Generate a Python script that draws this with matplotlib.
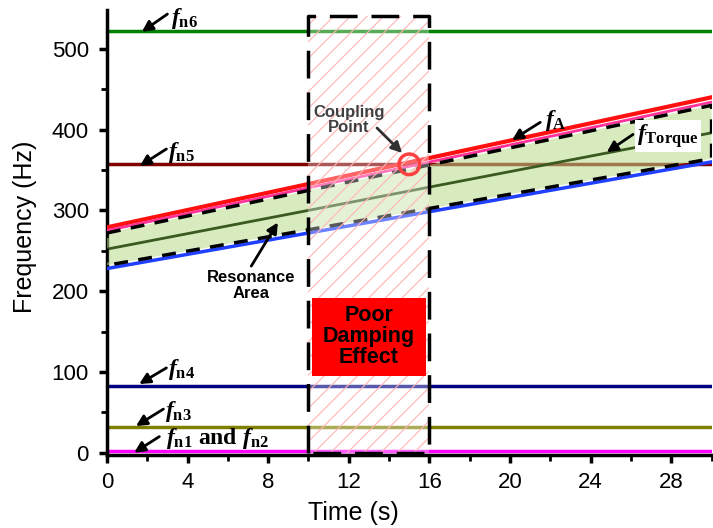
import numpy as np
import matplotlib.pyplot as plt
from matplotlib.patches import Polygon, Rectangle
from matplotlib.ticker import MultipleLocator

plt.rcParams['font.family'] = ['Liberation Sans', 'DejaVu Sans']
plt.rcParams['mathtext.fontset'] = 'custom'
plt.rcParams['mathtext.rm'] = 'Liberation Serif:bold'
plt.rcParams['mathtext.bf'] = 'Liberation Serif:bold'
plt.rcParams['mathtext.it'] = 'Liberation Serif:italic:bold'
plt.rcParams['hatch.linewidth'] = 0.8

# natural frequencies (Hz), constant in time
fn_names = ['fn1', 'fn3', 'fn4', 'fn5', 'fn6']
fn_values = [2, 32, 83, 357, 522]
fn_colors = ['#ff00ff', '#808000', '#000080', '#800000', '#008000']

# time-varying excitation frequencies, end points at t = 0 and t = 30 s
t_ends = [0, 30]
f_A = [279, 440]
f_A_inner = [275, 434]
f_lower = [228, 360]
f_torque = [252, 396]
band_upper = [272, 430]
band_lower = [232, 364]

poor_damping = (10, 16)
coupling = (15, 357)

fig = plt.figure(figsize=(7.13, 5.28), dpi=100)
ax = fig.add_axes([0.150, 0.138, 0.848, 0.843])
ax.set_xlim(0, 30)
ax.set_ylim(-3, 548)

for v, c in zip(fn_values, fn_colors):
    ax.plot([0, 30], [v, v], color=c, lw=2.5, zorder=2)

# resonance band
band = Polygon([(t_ends[0], band_lower[0]), (t_ends[1], band_lower[1]),
                (t_ends[1], band_upper[1]), (t_ends[0], band_upper[0])],
               closed=True, facecolor='#b8dc8c', alpha=0.55, edgecolor='none', zorder=3)
ax.add_patch(band)
ax.plot(t_ends, f_A, color='#ff1010', lw=3, zorder=4)
ax.plot(t_ends, f_A_inner, color='#ff3399', lw=2, zorder=4)
ax.plot(t_ends, f_lower, color='#2040ff', lw=2.5, zorder=4)
ax.plot(t_ends, f_torque, color='#3a5a20', lw=2, zorder=4)
ax.plot([t_ends[0], t_ends[1], t_ends[1], t_ends[0], t_ends[0]],
        [band_upper[0], band_upper[1], band_lower[1], band_lower[0], band_upper[0]],
        color='black', lw=2.5, ls=(0, (4, 3)), zorder=5)

# poor damping window
win = Rectangle((poor_damping[0], 0), poor_damping[1] - poor_damping[0], 540,
                facecolor=(1, 1, 1, 0.35), edgecolor='#ffb4b4', hatch='//', lw=0, zorder=6)
ax.add_patch(win)
ax.plot([10, 10, 16, 16, 10], [0, 540, 540, 0, 0], color='black', lw=2.5,
        ls=(0, (8, 4)), zorder=7)

ax.add_patch(Rectangle((10.18, 95), 5.64, 96, facecolor='#ff0000', edgecolor='none', zorder=8))
ax.text(13.0, 144, 'Poor\nDamping\nEffect', ha='center', va='center', fontsize=15.5,
        fontweight='bold', linespacing=1.0, zorder=9)

ax.scatter([coupling[0]], [coupling[1]], s=220, facecolors='none', edgecolors='#ff4040',
           linewidths=2.5, zorder=9)

arrow = dict(arrowstyle='-|>', color='black', lw=2, mutation_scale=16, shrinkA=0, shrinkB=0)
# label, arrow head, arrow tail, text position (left, centre)
labels = [
    (r'$f_{\rm n6}$', (1.73, 521), (3.0, 543), (3.2, 538)),
    (r'$f_{\rm n5}$', (1.63, 355), (2.95, 376), (3.05, 372)),
    (r'$f_{\rm n4}$', (1.6, 85), (2.95, 105), (3.05, 103)),
    (r'$f_{\rm n3}$', (1.44, 33), (2.8, 54), (2.9, 51)),
    (r'$f_{\rm n1}\ {\rm and}\ f_{\rm n2}$', (1.35, 0), (2.6, 20), (2.95, 18)),
    (r'$f_{\rm A}$', (20.1, 387), (21.5, 409), (21.75, 411)),
]
for s, head, tail, pos in labels:
    ax.annotate('', xy=head, xytext=tail, arrowprops=arrow, zorder=10)
    ax.text(pos[0], pos[1], s, ha='left', va='center', fontsize=17, zorder=10)

ax.annotate('', xy=(24.8, 372), xytext=(26.1, 394), arrowprops=arrow, zorder=10)
ax.text(26.3, 392, r'$f_{\rm Torque}$', ha='left', va='center', fontsize=17, zorder=10,
        bbox=dict(boxstyle='square,pad=0.1', fc='white', ec='none'))

ax.annotate('', xy=(14.65, 371), xytext=(13.4, 402),
            arrowprops=dict(arrow, color='#303030'), zorder=10)
ax.text(12.0, 412, 'Coupling\nPoint', ha='center', va='center', fontsize=12,
        fontweight='bold', color='#404040', linespacing=1.0, zorder=10)

ax.annotate('', xy=(8.48, 285), xytext=(7.16, 231), arrowprops=arrow, zorder=10)
ax.text(7.15, 207, 'Resonance\nArea', ha='center', va='center', fontsize=12,
        fontweight='bold', linespacing=1.1, zorder=10)

for side in ['top', 'right']:
    ax.spines[side].set_visible(False)
for side in ['left', 'bottom']:
    ax.spines[side].set_linewidth(2.5)
ax.xaxis.set_major_locator(MultipleLocator(4))
ax.xaxis.set_minor_locator(MultipleLocator(2))
ax.yaxis.set_major_locator(MultipleLocator(100))
ax.yaxis.set_minor_locator(MultipleLocator(50))
ax.tick_params(which='major', length=6, width=2.5, labelsize=16, direction='out')
ax.tick_params(axis='y', which='major', pad=7)
ax.tick_params(axis='x', which='major', pad=6)
ax.tick_params(which='minor', length=4, width=2, direction='out')
ax.set_xlabel('Time (s)', fontsize=18)
ax.set_ylabel('Frequency (Hz)', fontsize=18)
ax.xaxis.set_label_coords(0.407, -0.104)
ax.yaxis.set_label_coords(-0.116, 0.512)

fig.savefig('out.png', dpi=100)
